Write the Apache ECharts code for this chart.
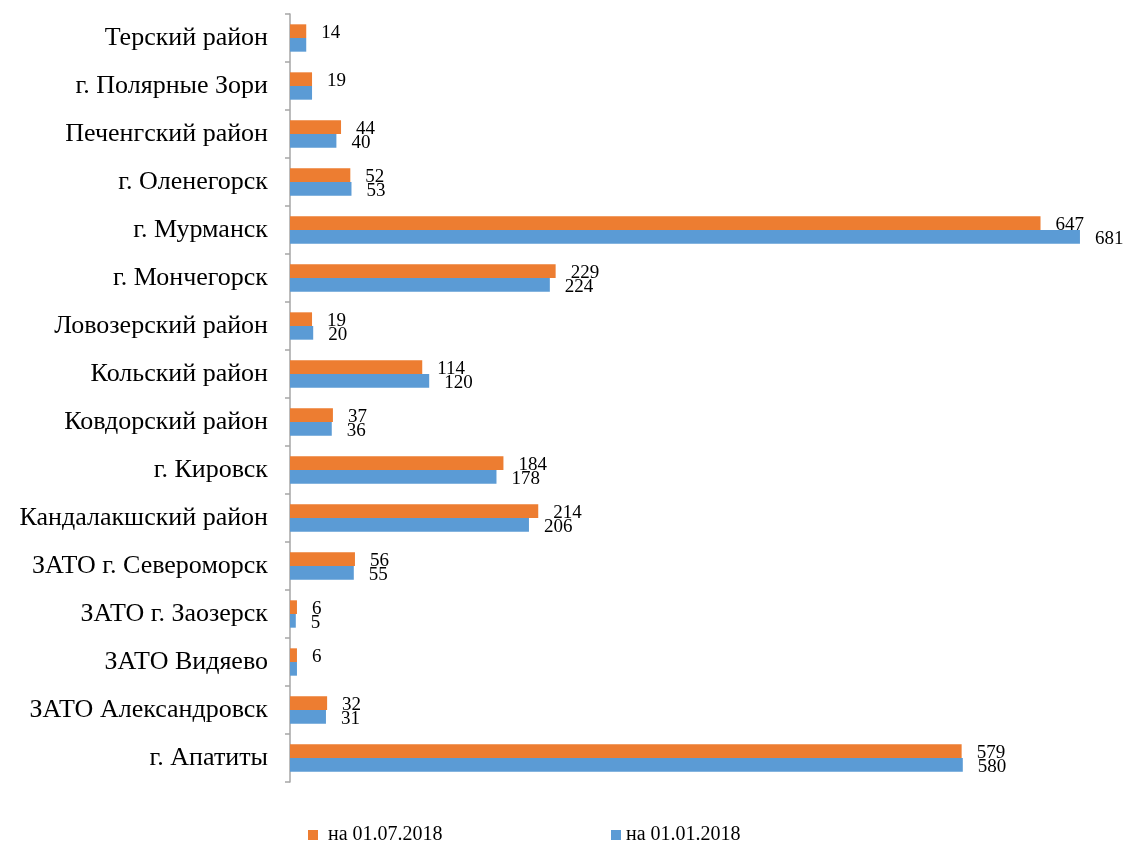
<!DOCTYPE html>
<html><head><meta charset="utf-8">
<script src="https://cdn.jsdelivr.net/npm/echarts@6/dist/echarts.min.js"></script>
<style>html,body{margin:0;padding:0;background:#fff}#c{width:1124px;height:845px}</style>
</head><body><div id="c"></div>
<script>
const categories = ['г. Апатиты','ЗАТО Александровск','ЗАТО Видяево','ЗАТО г. Заозерск','ЗАТО г. Североморск','Кандалакшский район','г. Кировск','Ковдорский район','Кольский район','Ловозерский район','г. Мончегорск','г. Мурманск','г. Оленегорск','Печенгский район','г. Полярные Зори','Терский район'];
const seriesJul = [579,32,6,6,56,214,184,37,114,19,229,647,52,44,19,14];
const seriesJan = [580,31,6,5,55,206,178,36,120,20,224,681,53,40,19,14];
const hiddenJanLabels = ['ЗАТО Видяево','г. Полярные Зори','Терский район'];
const nameJul = 'на 01.07.2018';
const nameJan = 'на 01.01.2018';
const FONT = 'Liberation Serif';
const chart = echarts.init(document.getElementById('c'));
const labelBase = {show:true, position:'right', distance:15, offset:[0,2], color:'#000', fontFamily:FONT, fontSize:19};
chart.setOption({
  animation:false,
  grid:{left:290, top:14, height:768, width:812, containLabel:false},
  legend:[
    {data:[nameJul], left:303, top:820, itemWidth:10, itemHeight:10, icon:'rect', textStyle:{fontFamily:FONT, fontSize:20, color:'#000', padding:[0,0,0,5]}},
    {data:[nameJan], left:606, top:820, itemWidth:10, itemHeight:10, icon:'rect', textStyle:{fontFamily:FONT, fontSize:20, color:'#000'}}
  ],
  xAxis:{type:'value', min:0, max:700, show:false, splitLine:{show:false}},
  yAxis:{type:'category', data:categories,
    axisLine:{lineStyle:{color:'#A6A6A6', width:1.5}},
    axisTick:{show:true, length:5, lineStyle:{color:'#A6A6A6', width:1.5}},
    axisLabel:{margin:22, color:'#000', fontFamily:FONT, fontSize:26}},
  series:[
    {name:nameJul, type:'bar', data:seriesJul, itemStyle:{color:'#ED7D31'}, barGap:'0%', barCategoryGap:'43%', label:labelBase},
    {name:nameJan, type:'bar', data:seriesJan.map((v,i)=>({value:v, label:{show:hiddenJanLabels.indexOf(categories[i])<0}})), itemStyle:{color:'#5B9BD5'}, barGap:'0%', barCategoryGap:'43%', label:labelBase}
  ]
});
</script></body></html>
